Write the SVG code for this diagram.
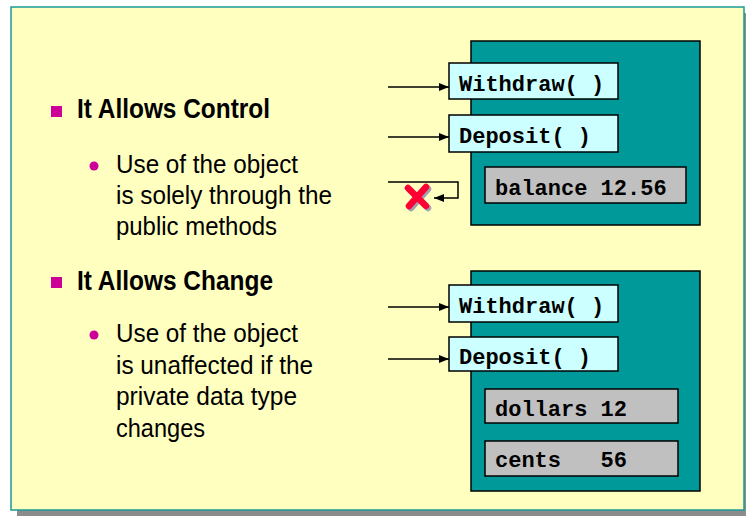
<svg xmlns="http://www.w3.org/2000/svg" width="746" height="516" viewBox="0 0 746 516">
<defs>
<style>
.title{font-family:"Liberation Sans",Arial,sans-serif;font-weight:bold;font-size:28.5px;fill:#000}
.body{font-family:"Liberation Sans",Arial,sans-serif;font-size:26.5px;fill:#000}
.code{font-family:"Liberation Mono","Courier New",monospace;font-weight:bold;font-size:22px;fill:#000}
.obj{fill:#009999;stroke:#000;stroke-width:1.5}
.meth{fill:#CCFFFF;stroke:#000;stroke-width:1.5}
.data{fill:#C0C0C0;stroke:#000;stroke-width:1.5}
.conn{fill:none;stroke:#000;stroke-width:1.5}
.sq{fill:#CC0099}
</style>
<marker id="ah" viewBox="0 0 10 8" refX="10" refY="4" markerWidth="10" markerHeight="8" markerUnits="userSpaceOnUse" orient="auto">
<path d="M0,0 L10,4 L0,8 Z" fill="#000"/>
</marker>
</defs>
<rect x="17" y="13" width="729" height="503" fill="#8C8C8C"/>
<rect x="11" y="7" width="733" height="503" fill="#FFFFC0" stroke="#1A9A9A" stroke-width="1.5"/>

<g id="text-control">
<rect class="sq" x="51" y="106" width="11" height="11"/>
<text class="title" x="77" y="118" textLength="193" lengthAdjust="spacingAndGlyphs">It Allows Control</text>
<circle cx="94" cy="166" r="4.5" fill="#CC0099"/>
<text class="body" x="116" y="173" textLength="182" lengthAdjust="spacingAndGlyphs">Use of the object</text>
<text class="body" x="116" y="204" textLength="216" lengthAdjust="spacingAndGlyphs">is solely through the</text>
<text class="body" x="116" y="235" textLength="161" lengthAdjust="spacingAndGlyphs">public methods</text>
</g>

<g id="text-change">
<rect class="sq" x="51" y="277" width="11" height="11"/>
<text class="title" x="77" y="290" textLength="196" lengthAdjust="spacingAndGlyphs">It Allows Change</text>
<circle cx="94" cy="335" r="4.5" fill="#CC0099"/>
<text class="body" x="116" y="342" textLength="182" lengthAdjust="spacingAndGlyphs">Use of the object</text>
<text class="body" x="116" y="374" textLength="197" lengthAdjust="spacingAndGlyphs">is unaffected if the</text>
<text class="body" x="116" y="405" textLength="181" lengthAdjust="spacingAndGlyphs">private data type</text>
<text class="body" x="116" y="437" textLength="89" lengthAdjust="spacingAndGlyphs">changes</text>
</g>

<g id="object1">
<rect class="obj" x="471" y="41" width="229" height="184"/>
<g id="withdraw1">
<rect class="meth" x="449" y="63" width="169" height="36"/>
<text class="code" x="459" y="91">Withdraw( )</text>
</g>
<g id="deposit1">
<rect class="meth" x="449" y="115" width="169" height="37"/>
<text class="code" x="459" y="143">Deposit( )</text>
</g>
<g id="balance">
<rect class="data" x="485" y="167" width="201" height="36"/>
<text class="code" x="495" y="195">balance 12.56</text>
</g>
</g>

<g id="object2">
<rect class="obj" x="471" y="271" width="229" height="220"/>
<g id="withdraw2">
<rect class="meth" x="449" y="285" width="169" height="37"/>
<text class="code" x="459" y="313">Withdraw( )</text>
</g>
<g id="deposit2">
<rect class="meth" x="449" y="337" width="169" height="34"/>
<text class="code" x="459" y="364">Deposit( )</text>
</g>
<g id="dollars">
<rect class="data" x="485" y="389" width="193" height="34"/>
<text class="code" x="495" y="416">dollars 12</text>
</g>
<g id="cents">
<rect class="data" x="485" y="441" width="193" height="35"/>
<text class="code" x="495" y="467" xml:space="preserve">cents   56</text>
</g>
</g>

<g id="connectors">
<line class="conn" x1="388" y1="87" x2="449" y2="87" marker-end="url(#ah)"/>
<line class="conn" x1="388" y1="137" x2="449" y2="137" marker-end="url(#ah)"/>
<polyline class="conn" points="388,182 458,182 458,198 434,198" marker-end="url(#ah)"/>
<line class="conn" x1="388" y1="307" x2="449" y2="307" marker-end="url(#ah)"/>
<line class="conn" x1="388" y1="359" x2="449" y2="359" marker-end="url(#ah)"/>
</g>

<g id="blocked">
<g stroke="#A0A0B0" stroke-width="6.5" stroke-linecap="round">
<line x1="410" y1="190" x2="428" y2="208"/>
<line x1="428" y1="189" x2="411" y2="208"/>
</g>
<g stroke="#FF0033" stroke-width="6.5" stroke-linecap="round">
<line x1="408" y1="188" x2="426" y2="206"/>
<line x1="426" y1="187" x2="409" y2="206"/>
</g>
</g>
</svg>
